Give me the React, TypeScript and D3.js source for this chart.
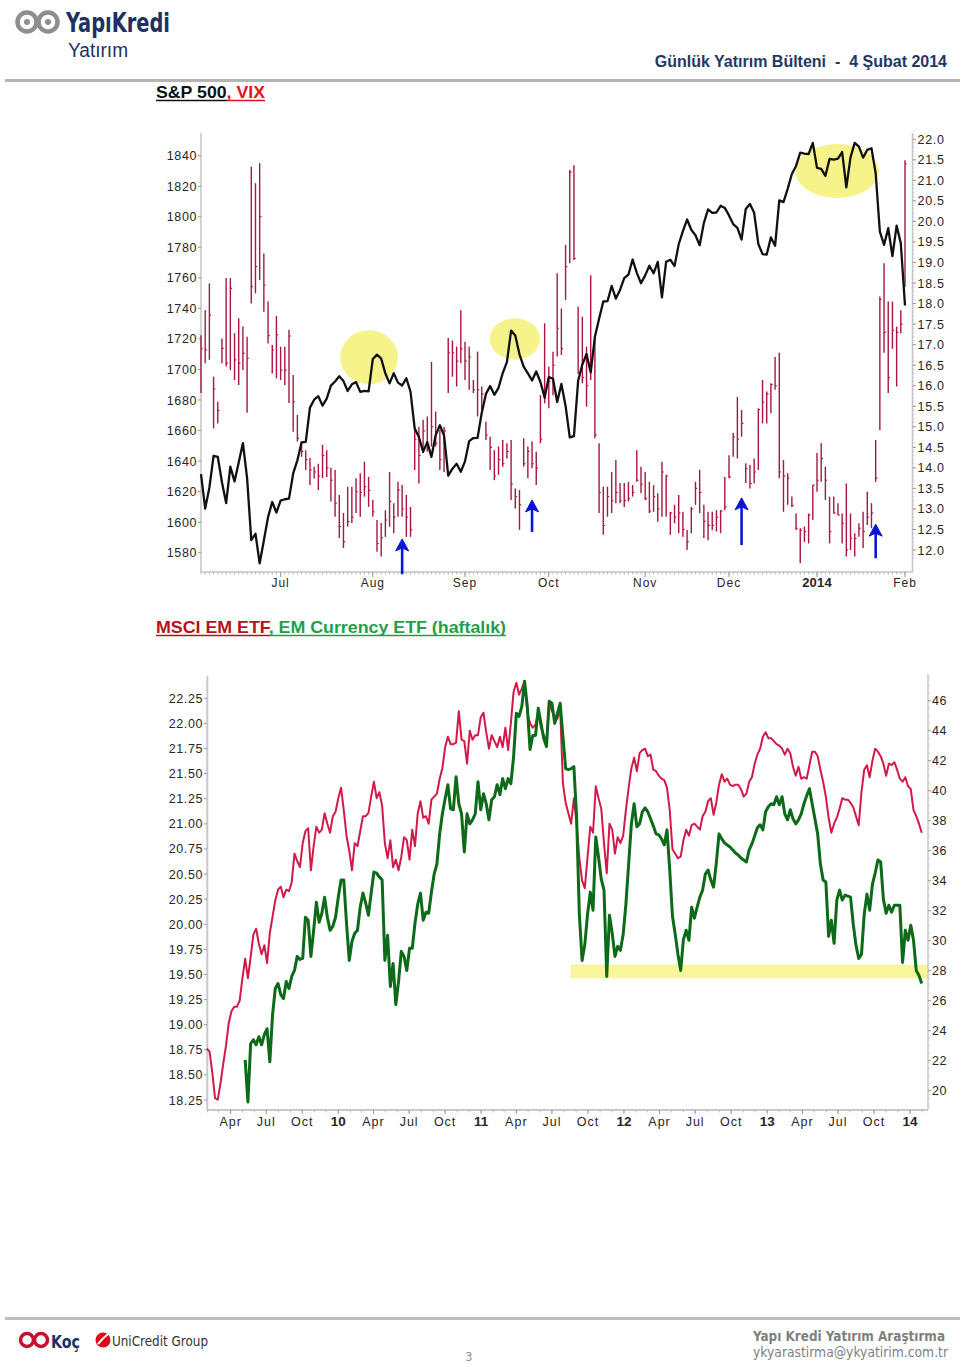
import React from 'react';
import * as d3 from 'd3';

// ---------- S&P 500 / VIX (daily, 4 Jun 2013 - 3 Feb 2014) ----------
const spxClose = [
  1631.4, 1608.9, 1622.6, 1643.4, 1642.8, 1626.1, 1612.5, 1636.4, 1626.7, 1639.0, 1651.8, 1628.9, 1588.2, 1592.4, 1573.1, 1588.0, 1603.3, 1613.2, 1606.3,
  1614.1, 1615.0, 1615.4, 1631.9, 1640.5, 1652.3, 1652.6, 1675.0, 1680.2, 1682.5, 1676.3, 1680.9, 1689.4, 1692.1, 1695.5, 1692.4, 1685.9, 1690.3, 1691.7, 1685.3, 1686.0, 1685.7,
  1706.9, 1709.7, 1707.1, 1697.4, 1690.9, 1697.5, 1691.4, 1689.5, 1694.2, 1685.4, 1661.3, 1655.8, 1646.1, 1652.4, 1642.8, 1657.0, 1663.5, 1656.8, 1630.5, 1635.0, 1638.2, 1633.0,
  1639.8, 1653.1, 1655.1, 1655.2, 1671.7, 1684.0, 1689.1, 1683.4, 1688.0, 1697.6, 1704.8, 1725.5, 1722.3, 1709.9, 1701.8, 1697.4, 1692.8, 1698.7, 1691.8, 1681.6,
  1695.0, 1693.9, 1678.7, 1690.5, 1676.1, 1655.5, 1656.4, 1692.6, 1703.2, 1710.1, 1698.1, 1721.5, 1733.2, 1744.5, 1744.7, 1754.7, 1746.4, 1752.1, 1759.8, 1762.1, 1772.0, 1763.3, 1756.5,
  1761.6, 1767.9, 1763.0, 1770.5, 1747.2, 1770.6, 1771.9, 1767.7, 1782.0, 1790.6, 1798.2, 1791.5, 1787.9, 1781.4, 1795.9, 1804.8, 1802.5, 1802.8, 1807.2, 1805.8,
  1800.9, 1795.2, 1792.8, 1785.0, 1805.1, 1808.4, 1802.6, 1782.2, 1775.5, 1775.3, 1786.5, 1781.0, 1810.7, 1809.6, 1818.3, 1828.0, 1833.3, 1842.0, 1841.4, 1841.1, 1848.4,
  1832.0, 1831.4, 1826.8, 1837.9, 1837.5, 1838.1, 1842.4, 1819.2, 1838.9, 1848.4, 1845.9, 1838.7, 1843.8, 1844.9, 1828.5, 1790.3, 1781.6, 1792.5, 1774.2, 1794.2, 1782.6,
  1741.9,
];

const vixHigh = [
  17.23, 17.84, 18.49, 16.22, 15.61, 17.15, 18.62, 18.62, 17.28, 17.64, 17.44, 17.19, 21.33, 20.93, 21.42, 19.22, 18.05, 16.99, 17.7,
  16.95, 16.95, 17.36, 16.26, 15.29, 14.64, 14.43, 14.24, 14.03, 14.1, 14.56, 14.43, 14.0, 13.95, 13.34, 12.9, 13.54, 13.54, 13.75, 13.87, 14.15, 13.78,
  13.22, 12.73, 12.66, 12.97, 13.9, 13.14, 13.66, 13.58, 13.34, 13.05, 14.92, 15.0, 15.17, 15.25, 16.58, 15.37, 14.92, 15.0, 17.16, 17.1, 16.95, 17.84,
  17.07, 16.95, 16.14, 16.83, 15.98, 15.12, 14.76, 14.43, 14.52, 14.68, 14.6, 14.68, 13.5, 13.46, 14.72, 14.52, 14.64, 14.39, 15.77, 17.52,
  16.46, 16.83, 18.74, 17.88, 19.43, 21.25, 21.37, 17.92, 17.68, 16.95, 18.69, 17.19, 14.6, 13.54, 13.54, 13.9, 14.19, 13.63, 13.63, 13.66, 13.58, 14.43, 14.03,
  13.9, 13.66, 13.58, 13.38, 14.15, 13.83, 12.93, 13.1, 13.34, 12.93, 12.49, 13.05, 13.66, 13.95, 13.1, 12.93, 12.93, 12.97, 12.97, 13.78,
  14.31, 14.85, 15.73, 15.41, 14.11, 14.07, 14.23, 15.45, 16.14, 15.86, 16.06, 16.7, 16.8, 14.19, 13.87, 13.3, 12.89, 12.53, 12.57, 12.89, 13.58,
  14.36, 14.6, 14.03, 13.3, 13.3, 13.14, 12.89, 13.62, 12.89, 12.41, 12.65, 12.93, 13.42, 13.14, 14.68, 18.17, 18.98, 18.05, 18.05, 17.44, 17.84,
  21.49,
];

const vixLow = [
  15.82, 16.55, 16.63, 14.96, 15.08, 16.55, 16.47, 16.38, 16.14, 16.02, 16.38, 15.34, 18.0, 18.25, 18.57, 17.8, 17.03, 16.3, 16.18,
  16.14, 16.02, 15.58, 14.88, 14.64, 14.27, 13.95, 13.58, 13.74, 13.46, 13.75, 13.78, 13.18, 12.81, 12.29, 12.05, 12.57, 12.66, 12.9, 12.81, 13.3, 13.05,
  12.81, 11.96, 11.84, 12.32, 12.57, 12.41, 12.81, 12.81, 12.32, 12.32, 13.95, 13.62, 14.36, 14.39, 14.52, 14.52, 13.95, 13.9, 15.82, 16.22, 15.98, 16.55,
  16.14, 15.9, 15.82, 15.25, 15.33, 14.68, 13.95, 13.7, 13.83, 14.03, 14.23, 13.22, 13.01, 12.49, 14.03, 13.75, 13.99, 13.58, 14.6, 15.57,
  15.45, 15.77, 16.71, 16.75, 18.09, 18.98, 19.06, 16.3, 16.06, 15.49, 16.14, 14.72, 12.9, 12.37, 12.81, 12.9, 13.14, 13.14, 13.05, 13.18, 13.3, 13.66, 13.38,
  13.22, 12.9, 12.93, 12.69, 12.81, 12.81, 12.37, 12.65, 12.41, 12.32, 12.0, 12.41, 13.1, 12.9, 12.29, 12.24, 12.49, 12.45, 12.41, 12.97,
  13.75, 14.27, 14.23, 14.76, 13.63, 13.5, 13.62, 13.95, 15.08, 15.08, 15.33, 15.9, 13.75, 12.93, 13.1, 13.05, 12.49, 11.68, 12.2, 12.16, 12.73,
  13.42, 13.66, 13.22, 12.16, 12.89, 12.85, 12.16, 11.84, 12.0, 11.84, 12.32, 12.05, 12.61, 12.53, 13.66, 14.92, 16.8, 15.82, 16.9, 15.98, 17.28,
  18.41,
];

const vixClose = [
  16.9, 16.87, 17.72, 15.92, 15.4, 16.91, 16.55, 18.37, 16.63, 16.55, 16.79, 16.67, 18.41, 18.9, 20.12, 18.45, 17.22, 16.87, 17.24,
  16.38, 16.38, 17.21, 15.61, 14.72, 14.4, 14.2, 13.95, 13.9, 13.8, 14.3, 14.0, 13.7, 13.14, 12.57, 12.2, 12.69, 12.8, 13.42, 13.4, 13.54, 13.45,
  12.93, 12.16, 12.3, 12.73, 13.18, 12.8, 13.46, 13.0, 12.8, 12.49, 14.7, 14.3, 14.9, 14.5, 15.0, 14.6, 14.2, 14.9, 16.8, 16.8, 16.6, 16.9,
  16.6, 16.7, 15.9, 15.9, 15.8, 14.8, 14.5, 13.8, 14.2, 14.1, 14.4, 13.6, 13.3, 13.1, 14.1, 14.4, 14.1, 14.0, 14.7, 15.7,
  16.1, 16.5, 17.4, 16.9, 18.9, 21.2, 19.1, 16.3, 16.2, 16.0, 16.6, 14.8, 13.4, 12.6, 13.3, 13.2, 13.4, 13.2, 13.2, 13.25, 13.4, 13.7, 13.6,
  13.25, 12.95, 13.3, 13.0, 13.9, 13.8, 12.9, 12.8, 12.9, 12.5, 12.2, 13.0, 13.5, 13.4, 12.7, 12.6, 12.6, 12.8, 12.95, 13.05,
  13.78, 14.75, 14.7, 15.08, 13.98, 13.62, 13.9, 15.42, 15.6, 15.8, 16.03, 16.0, 13.9, 13.8, 13.75, 13.08, 12.53, 12.48, 12.45, 12.85, 13.58,
  13.7, 14.23, 13.7, 12.45, 12.9, 12.85, 12.65, 12.0, 12.29, 12.28, 12.53, 12.45, 12.8, 12.9, 13.75, 18.1, 17.3, 16.2, 17.35, 17.3, 17.5,
  21.4,
];

const nyseHolidays = ['2013-07-04', '2013-09-02', '2013-11-28', '2013-12-25', '2014-01-01', '2014-01-20'];
const topMonthLabels = ['Jul', 'Aug', 'Sep', 'Oct', 'Nov', 'Dec', '2014', 'Feb'];
const spxTicks = d3.range(1580, 1841, 20);
const vixTicks = d3.range(12, 22.01, 0.5);

// highlights: [bar index, S&P level, half width in bars, half height in points]
const topHighlights = [
  [40.1, 1708, 6.9, 17.7],
  [74.9, 1720, 6.0, 13.5],
  [151.8, 1830, 10.0, 17.7],
];
// arrows: [bar index, VIX tip, VIX tail]
const topArrows = [
  [48, 12.27, 11.41],
  [79, 13.22, 12.44],
  [129, 13.27, 12.12],
  [161, 12.63, 11.8],
];

// ---------- MSCI EM ETF / EM Currency ETF (weekly) ----------
const eemStart = new Date(2009, 0, 30);
const eemClose = [
  22.8, 22.6, 21.2, 19.5, 19.4, 20.5, 21.8, 23.0, 24.5, 25.3, 25.6, 25.6, 26.0, 27.5, 28.8, 27.5, 28.9, 30.4, 30.8, 29.8,
  29.1, 29.7, 28.5, 30.5, 31.6, 32.7, 33.4, 33.6, 32.9, 33.4, 33.3, 33.9, 35.8, 35.3, 34.9, 36.5, 37.3, 37.5, 34.7, 36.3,
  37.6, 37.2, 37.4, 38.5, 37.8, 37.2, 38.3, 38.6, 39.5, 40.2, 38.7, 37.0, 36.0, 34.7, 36.5, 36.3, 37.3, 38.3, 38.3, 38.5,
  39.6, 40.6, 39.5, 39.9, 39.0, 36.5, 35.5, 36.7, 34.9, 35.4, 34.7, 35.6, 36.9, 36.7, 35.4, 37.4, 36.3, 38.5, 39.3, 38.2,
  38.3, 37.8, 39.4, 39.6, 39.8, 40.8, 41.5, 42.9, 43.6, 43.1, 43.1, 43.2, 45.3, 43.4, 43.3, 41.8, 44.0, 43.4, 43.7, 43.7,
  44.9, 45.2, 43.9, 42.8, 43.7, 43.3, 42.9, 43.6, 42.9, 44.2, 42.7, 44.5, 46.6, 47.2, 46.4, 46.8, 47.3, 45.2, 44.5, 44.2,
  44.4, 45.2, 44.2, 43.7, 43.3, 45.9, 45.3, 45.0, 44.8, 45.5, 40.5, 39.2, 38.5, 37.8, 39.5, 37.8, 35.5, 34.0, 33.5, 35.6,
  37.6, 37.2, 40.3, 39.5, 38.8, 36.5, 34.5, 37.8, 37.4, 35.8, 36.9, 36.5, 37.0, 38.7, 40.2, 41.5, 42.2, 41.3, 42.5, 42.7,
  42.8, 42.3, 42.4, 41.4, 41.3, 41.0, 40.8, 40.7, 40.2, 38.7, 36.1, 35.8, 35.5, 35.6, 36.7, 37.4, 37.0, 37.7, 37.8, 37.6,
  37.4, 38.3, 38.6, 39.3, 39.5, 38.4, 39.2, 40.4, 41.1, 40.6, 40.8, 40.4, 40.3, 40.4, 40.4, 40.1, 39.6, 39.8, 40.6, 40.9,
  41.8, 42.4, 42.8, 43.6, 43.9, 43.5, 43.5, 43.3, 43.1, 43.0, 42.8, 42.4, 42.8, 42.5, 41.6, 41.0, 41.6, 40.8, 40.9, 40.8,
  41.7, 42.6, 42.6, 42.3, 41.4, 40.6, 39.6, 38.2, 37.2, 37.8, 38.2, 38.8, 39.5, 39.4, 39.4, 39.2, 38.9, 38.3, 37.7, 39.9,
  41.4, 41.7, 40.9, 42.0, 42.8, 42.6, 42.3, 41.8, 41.0, 41.8, 41.7, 41.9, 41.4, 40.8, 40.6, 40.9, 40.3, 40.1, 38.7, 38.3,
  37.8, 37.2,
];

const cewStart = new Date(2009, 4, 8);
const cewClose = [
  18.65, 18.23, 18.81, 18.85, 18.8, 18.88, 18.8, 18.9, 18.96, 18.63, 19.1, 19.36, 19.41, 19.3, 19.26, 19.43, 19.36, 19.48, 19.54, 19.68,
  19.65, 19.66, 20.07, 20.04, 19.68, 19.94, 20.22, 20.02, 20.11, 20.27, 20.07, 19.94, 19.98, 20.07, 20.27, 20.44, 20.44, 20.01, 19.64, 19.83,
  19.91, 19.94, 20.17, 20.31, 20.21, 20.09, 20.31, 20.52, 20.51, 20.47, 20.44, 19.64, 19.89, 19.38, 19.61, 19.2, 19.43, 19.73, 19.68, 19.54,
  19.76, 19.76, 20.01, 20.2, 20.31, 20.04, 20.12, 20.11, 20.32, 20.5, 20.6, 20.9, 21.1, 21.25, 21.39, 21.15, 21.14, 21.47, 21.2, 21.1,
  20.72, 21.1, 21.0, 21.04, 21.1, 21.42, 21.14, 21.3, 21.2, 21.04, 21.24, 21.27, 21.39, 21.29, 21.45, 21.35, 21.45, 21.4, 21.67, 22.1,
  22.07, 22.17, 22.42, 22.17, 21.74, 21.88, 21.88, 22.15, 22.0, 21.85, 21.77, 22.22, 22.2, 22.0, 22.1, 22.2, 21.87, 21.55, 21.54, 21.55,
  21.57, 21.07, 20.1, 19.64, 19.8, 20.1, 20.32, 20.14, 20.87, 20.67, 20.45, 20.34, 19.48, 20.09, 19.91, 19.68, 19.78, 19.74, 19.9, 20.2,
  20.6, 21.0, 21.2, 20.97, 21.0, 21.12, 21.16, 21.12, 21.05, 20.98, 20.9, 20.89, 20.85, 20.79, 20.94, 20.54, 20.08, 19.9, 19.7, 19.54,
  19.85, 19.94, 19.84, 20.17, 20.06, 20.17, 20.27, 20.34, 20.5, 20.54, 20.44, 20.37, 20.61, 20.9, 20.85, 20.81, 20.79, 20.77, 20.74, 20.71,
  20.69, 20.66, 20.64, 20.62, 20.74, 20.8, 20.88, 20.96, 20.99, 20.94, 21.12, 21.17, 21.2, 21.19, 21.27, 21.19, 21.27, 21.1, 21.04, 21.14,
  21.05, 21.0, 21.04, 21.1, 21.2, 21.28, 21.35, 21.2, 21.05, 20.9, 20.6, 20.44, 20.42, 19.88, 20.04, 19.81, 20.24, 20.34, 20.24, 20.29,
  20.28, 20.27, 20.0, 19.79, 19.66, 19.7, 20.1, 20.3, 20.14, 20.4, 20.51, 20.64, 20.62, 20.25, 20.11, 20.19, 20.12, 20.19, 20.19, 20.19,
  19.62, 19.94, 19.84, 19.99, 19.84, 19.54, 19.49, 19.41,
];

const cewTicks = d3.range(18.25, 22.26, 0.25);
const eemTicks = d3.range(20, 46.1, 2);
const supportBand = { from: new Date(2011, 7, 18), low: 27.5, high: 28.4 };

const FONT = 'Liberation Sans, Arial, sans-serif';
const NARROW = 'Liberation Sans Narrow, DejaVu Sans Condensed, Arial Narrow, sans-serif';

const fmtDay = d3.timeFormat('%Y-%m-%d');
const tradingDays = d3
  .timeDay.range(new Date(2013, 5, 4), new Date(2014, 1, 4))
  .filter((d) => d.getDay() % 6 !== 0 && !nyseHolidays.includes(fmtDay(d)));

function TopChart() {
  const x = d3.scaleLinear().domain([0, 168]).range([201, 905]);
  const yS = d3.scaleLinear().domain([1580, 1840]).range([552.7, 155.7]);
  const yV = d3.scaleLinear().domain([12, 22]).range([550, 139.3]);
  const monthStarts = tradingDays
    .map((d, i) => ({ d, i }))
    .filter(({ d, i }) => i > 0 && d.getMonth() !== tradingDays[i - 1].getMonth());

  const line = d3
    .line<number>()
    .x((_, i) => x(i))
    .y((v) => yS(v));

  const barColor = '#a8163f';
  return (
    <g>
      {topHighlights.map(([i, v, w, h], k) => (
        <ellipse
          key={k}
          cx={x(i)}
          cy={yS(v)}
          rx={x(w) - x(0)}
          ry={yS(0) - yS(h)}
          fill="#f6f38a"
        />
      ))}
      {/* axes */}
      <line x1={201} x2={201} y1={133} y2={572} stroke="#c4c4c4" strokeWidth={1.5} />
      <line x1={912.5} x2={912.5} y1={133} y2={572} stroke="#c4c4c4" strokeWidth={1.5} />
      <line x1={201} x2={913} y1={572} y2={572} stroke="#c4c4c4" strokeWidth={1.5} />
      {tradingDays.map((_, i) => (
        <line key={i} x1={x(i)} x2={x(i)} y1={572} y2={574.5} stroke="#b8b8b8" strokeWidth={1} />
      ))}
      {d3.range(11.8, 22.3, 0.1).map((v, k) => (
        <line key={k} x1={912.5} x2={914.5} y1={yV(v)} y2={yV(v)} stroke="#c8c8c8" strokeWidth={0.8} />
      ))}
      {spxTicks.map((v) => (
        <g key={v}>
          <line x1={198} x2={201} y1={yS(v)} y2={yS(v)} stroke="#999" />
          <text
            x={197}
            y={yS(v) + 4.5}
            textAnchor="end"
            fontSize={12.5}
            fontFamily={FONT}
            fill="#262626"
            style={{ letterSpacing: '0.6px' }}
          >
            {v}
          </text>
        </g>
      ))}
      {vixTicks.map((v) => (
        <g key={v}>
          <line x1={912.5} x2={916} y1={yV(v)} y2={yV(v)} stroke="#999" />
          <text
            x={917.5}
            y={yV(v) + 4.5}
            fontSize={12.5}
            fontFamily={FONT}
            fill="#262626"
            style={{ letterSpacing: '0.7px' }}
          >
            {v.toFixed(1)}
          </text>
        </g>
      ))}
      {monthStarts.map(({ i }, k) => (
        <g key={k}>
          <line x1={x(i)} x2={x(i)} y1={572} y2={577} stroke="#999" />
          <text
            x={x(i)}
            y={587}
            textAnchor="middle"
            fontSize={k === 6 ? 13 : 12}
            fontWeight={k === 6 ? 'bold' : 'normal'}
            fontFamily={FONT}
            fill="#262626"
            style={{ letterSpacing: k === 6 ? '0.2px' : '1px' }}
          >
            {topMonthLabels[k]}
          </text>
        </g>
      ))}
      {/* VIX HLC bars */}
      {vixHigh.map((h, i) => (
        <g key={i} stroke={barColor} strokeWidth={1.4}>
          <line x1={x(i)} x2={x(i)} y1={yV(h)} y2={yV(vixLow[i])} />
          <line x1={x(i)} x2={x(i) + 1.8} y1={yV(vixClose[i])} y2={yV(vixClose[i])} strokeWidth={1.1} />
        </g>
      ))}
      <path d={line(spxClose) || ''} fill="none" stroke="#111" strokeWidth={2.3} strokeLinejoin="round" />
      {topArrows.map(([i, tip, tail], k) => {
        const cx = x(i);
        const ty = yV(tip);
        return (
          <g key={k} fill="#0a14d8" stroke="#0a14d8">
            <line x1={cx} x2={cx} y1={ty + 8} y2={yV(tail)} strokeWidth={2.6} />
            <path d={`M${cx},${ty} L${cx - 6.5},${ty + 12} L${cx},${ty + 9} L${cx + 6.5},${ty + 12} Z`} strokeWidth={1} />
          </g>
        );
      })}
    </g>
  );
}

function BottomChart() {
  const x = d3
    .scaleTime()
    .domain([new Date(2010, 0, 1), new Date(2014, 0, 1)])
    .range([338.3, 910]);
  const yL = d3.scaleLinear().domain([18.25, 22.25]).range([1100, 698.3]);
  const yR = d3.scaleLinear().domain([20, 46]).range([1090.7, 700.7]);

  const eemLine = d3
    .line<number>()
    .x((_, i) => x(d3.timeDay.offset(eemStart, 7 * i)))
    .y((v) => yR(v));
  const cewLine = d3
    .line<number>()
    .x((_, i) => x(d3.timeDay.offset(cewStart, 7 * i)))
    .y((v) => yL(v));

  const quarters = d3.timeMonth.every(3)!.range(new Date(2009, 3, 1), new Date(2014, 0, 2));
  const months = d3.timeMonth.range(new Date(2009, 1, 1), new Date(2014, 1, 2));
  const monthName = d3.timeFormat('%b');
  const yearName = d3.timeFormat('%y');

  return (
    <g>
      <rect
        x={x(supportBand.from)}
        y={yR(supportBand.high)}
        width={928 - x(supportBand.from)}
        height={yR(supportBand.low) - yR(supportBand.high)}
        fill="#f8f59a"
      />
      <line x1={207.3} x2={207.3} y1={676} y2={1110} stroke="#c8c8c8" strokeWidth={2} />
      <line x1={207} x2={928} y1={1110} y2={1110} stroke="#c8c8c8" strokeWidth={2} />
      <line x1={928} x2={928} y1={674} y2={1110} stroke="#c8c8c8" strokeWidth={1.5} />
      {d3.range(19, 47.6, 0.5).map((v, k) => (
        <line key={k} x1={928} x2={930} y1={yR(v)} y2={yR(v)} stroke="#c8c8c8" strokeWidth={0.8} />
      ))}
      {months.map((d, k) => (
        <line key={k} x1={x(d)} x2={x(d)} y1={1110} y2={1112.5} stroke="#c0c0c0" />
      ))}
      {cewTicks.map((v) => (
        <g key={v}>
          <line x1={204} x2={207} y1={yL(v)} y2={yL(v)} stroke="#999" />
          <text
            x={203}
            y={yL(v) + 4.5}
            textAnchor="end"
            fontSize={12.5}
            fontFamily={FONT}
            fill="#262626"
            style={{ letterSpacing: '0.6px' }}
          >
            {v.toFixed(2)}
          </text>
        </g>
      ))}
      {eemTicks.map((v) => (
        <g key={v}>
          <line x1={928} x2={931} y1={yR(v)} y2={yR(v)} stroke="#999" />
          <text
            x={932}
            y={yR(v) + 4.5}
            fontSize={12.5}
            fontFamily={FONT}
            fill="#262626"
            style={{ letterSpacing: '0.6px' }}
          >
            {v}
          </text>
        </g>
      ))}
      {quarters.map((d, k) => {
        const isYear = d.getMonth() === 0;
        return (
          <g key={k}>
            <line x1={x(d)} x2={x(d)} y1={1110} y2={1114} stroke="#999" />
            <text
              x={x(d)}
              y={1126}
              textAnchor="middle"
              fontSize={isYear ? 13.5 : 12.5}
              fontWeight={isYear ? 'bold' : 'normal'}
              fontFamily={FONT}
              fill="#262626"
              style={{ letterSpacing: isYear ? '0px' : '1px' }}
            >
              {isYear ? yearName(d) : monthName(d)}
            </text>
          </g>
        );
      })}
      <path d={eemLine(eemClose) || ''} fill="none" stroke="#d21a4a" strokeWidth={2} strokeLinejoin="round" />
      <path d={cewLine(cewClose) || ''} fill="none" stroke="#0c6a18" strokeWidth={3} strokeLinejoin="round" />
    </g>
  );
}

function Header() {
  return (
    <g>
      <g fill="none" stroke="#8e8e8e" strokeWidth={4.5}>
        <circle cx={27} cy={22} r={9.5} />
        <circle cx={48} cy={22} r={9.5} />
      </g>
      <circle cx={27} cy={22} r={3} fill="#8e8e8e" />
      <circle cx={48} cy={22} r={3} fill="#8e8e8e" />
      <text x={66} y={32} fontFamily={NARROW} fontWeight="bold" fontSize={27} fill="#1d3262" textLength={104} lengthAdjust="spacingAndGlyphs">
        YapıKredi
      </text>
      <text x={68} y={57} fontFamily={FONT} fontSize={20} fill="#1d3262" textLength={60} lengthAdjust="spacingAndGlyphs">
        Yatırım
      </text>
      <text
        x={947}
        y={67}
        textAnchor="end"
        fontFamily={FONT}
        fontWeight="bold"
        fontSize={16}
        fill="#1f3864"
        style={{ whiteSpace: 'pre' }}
      >
        {'Günlük Yatırım Bülteni  -  4 Şubat 2014'}
      </text>
      <line x1={5} x2={960} y1={80.5} y2={80.5} stroke="#b4b4b4" strokeWidth={3} />
      <text x={156} y={98} fontFamily={FONT} fontWeight="bold" fontSize={17} textLength={109} lengthAdjust="spacingAndGlyphs">
        <tspan fill="#111">S&amp;P 500</tspan>
        <tspan fill="#e3141c">, VIX</tspan>
      </text>
      <line x1={156} x2={227} y1={100.5} y2={100.5} stroke="#111" strokeWidth={1.6} />
      <line x1={227} x2={265} y1={100.5} y2={100.5} stroke="#e3141c" strokeWidth={1.6} />

      <text x={156} y={633} fontFamily={FONT} fontWeight="bold" fontSize={17} textLength={350} lengthAdjust="spacingAndGlyphs">
        <tspan fill="#b3121e">MSCI EM ETF</tspan>
        <tspan fill="#1f9e4c">, EM Currency ETF (haftalık)</tspan>
      </text>
      <line x1={156} x2={270} y1={635.5} y2={635.5} stroke="#b3121e" strokeWidth={1.6} />
      <line x1={270} x2={506} y1={635.5} y2={635.5} stroke="#1f9e4c" strokeWidth={1.6} />
    </g>
  );
}

function Footer() {
  return (
    <g>
      <line x1={5} x2={960} y1={1318.5} y2={1318.5} stroke="#bdbdbd" strokeWidth={3} />
      <g fill="none" stroke="#c8102e" strokeWidth={3.5}>
        <circle cx={27} cy={1340} r={6.5} />
        <circle cx={41} cy={1340} r={6.5} />
      </g>
      <text x={51} y={1348} fontFamily={NARROW} fontWeight="bold" fontSize={18} fill="#1d3262" textLength={29} lengthAdjust="spacingAndGlyphs">
        Koç
      </text>
      <circle cx={103} cy={1340} r={7.5} fill="#e2001a" />
      <path d="M98,1344 Q103,1338 108,1334" stroke="#fff" strokeWidth={2} fill="none" />
      <text x={112} y={1346} fontFamily={NARROW} fontSize={14.5} fill="#333" textLength={96} lengthAdjust="spacingAndGlyphs">
        UniCredit Group
      </text>
      <text x={753} y={1341} fontFamily={NARROW} fontWeight="bold" fontSize={14} fill="#7f7f7f" textLength={192} lengthAdjust="spacingAndGlyphs">
        Yapı Kredi Yatırım Araştırma
      </text>
      <text x={753} y={1357} fontFamily={NARROW} fontSize={14} fill="#7f7f7f" textLength={195} lengthAdjust="spacingAndGlyphs">
        ykyarastirma@ykyatirim.com.tr
      </text>
      <text x={469} y={1361} textAnchor="middle" fontFamily={NARROW} fontSize={12} fill="#8a8a8a">
        3
      </text>
    </g>
  );
}

export default function App() {
  return (
    <svg
      width={960}
      height={1365}
      viewBox="0 0 960 1365"
      style={{ position: 'absolute', left: 0, top: 0, background: '#fff' }}
    >
      <rect width={960} height={1365} fill="#fff" />
      <Header />
      <TopChart />
      <BottomChart />
      <Footer />
    </svg>
  );
}
